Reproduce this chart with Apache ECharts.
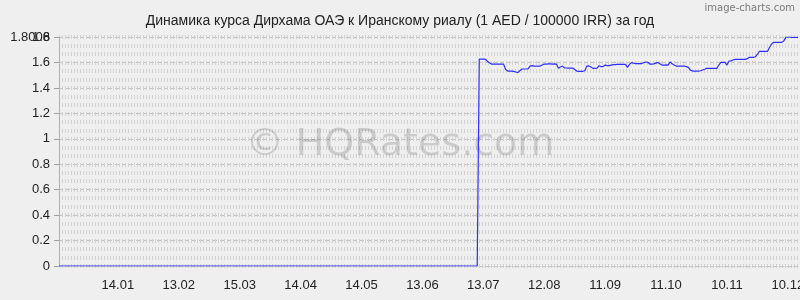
<!DOCTYPE html>
<html>
<head>
<meta charset="utf-8">
<script src="https://cdn.jsdelivr.net/npm/echarts@6/dist/echarts.min.js"></script>
<style>
html,body{margin:0;padding:0;background:#efefef;}
#chart{width:800px;height:300px;}
</style>
</head>
<body>
<div id="chart"></div>
<script>
// Period: 16.12.2012 .. 15.12.2013 (daily)
const startDate = Date.UTC(2012, 11, 16);
const dayCount = 365;

const tickLabels = ["14.01","13.02","15.03","14.04","14.05","13.06","13.07","12.08","11.09","11.10","10.11","10.12"];

// Values before the jump (no rate published -> 0)
const zeroPart = [
0,0,0,0,0,0,0,0,0,0,
0,0,0,0,0,0,0,0,0,0,
0,0,0,0,0,0,0,0,0,0,
0,0,0,0,0,0,0,0,0,0,
0,0,0,0,0,0,0,0,0,0,
0,0,0,0,0,0,0,0,0,0,
0,0,0,0,0,0,0,0,0,0,
0,0,0,0,0,0,0,0,0,0,
0,0,0,0,0,0,0,0,0,0,
0,0,0,0,0,0,0,0,0,0,
0,0,0,0,0,0,0,0,0,0,
0,0,0,0,0,0,0,0,0,0,
0,0,0,0,0,0,0,0,0,0,
0,0,0,0,0,0,0,0,0,0,
0,0,0,0,0,0,0,0,0,0,
0,0,0,0,0,0,0,0,0,0,
0,0,0,0,0,0,0,0,0,0,
0,0,0,0,0,0,0,0,0,0,
0,0,0,0,0,0,0,0,0,0,
0,0,0,0,0,0,0,0,0,0,
0,0,0,0,0,0,0
];

// Rates after the jump
const ratePart = [
1.626,1.626,1.626,1.626,
1.610,1.598,
1.588,1.587,1.588,1.588,1.587,1.588,1.587,
1.545,1.533,
1.533,1.532,1.530,
1.525,1.520,
1.535,1.549,
1.549,1.549,1.550,
1.572,1.575,
1.572,1.571,1.571,1.572,
1.580,1.588,
1.588,1.590,1.589,1.588,1.589,1.588,
1.554,1.565,1.572,1.557,
1.557,1.556,1.557,1.556,
1.545,1.533,
1.531,1.530,1.531,1.535,
1.572,1.573,
1.565,1.554,
1.554,1.555,
1.575,1.568,1.568,1.580,1.575,1.575,1.580,
1.584,1.584,1.585,1.586,1.586,1.586,1.586,
1.562,1.585,1.599,1.594,
1.591,1.591,1.591,1.592,1.598,
1.604,1.602,1.588,
1.588,1.589,1.595,
1.601,1.590,
1.580,1.580,1.581,1.580,
1.604,1.590,1.580,
1.572,1.572,1.572,1.572,1.572,
1.568,1.562,1.540,
1.533,1.533,1.533,1.533,
1.535,1.541,1.547,
1.554,1.554,1.554,1.554,1.554,1.554,
1.580,
1.601,1.601,1.601,
1.580,1.612,1.613,1.620,
1.625,1.625,1.625,1.625,1.625,1.625,
1.630,
1.641,1.641,1.641,
1.645,1.665,
1.688,1.688,1.688,1.688,1.688,
1.720,1.746,
1.759,1.759,1.759,1.759,1.759,
1.770,1.798,
1.8006,1.8006,
1.798,1.798,1.798,1.798
];

const values = zeroPart.concat(ratePart);

const categories = [];
for (let i = 0; i < dayCount; i++) {
  const d = new Date(startDate + i * 86400000);
  const dd = String(d.getUTCDate()).padStart(2, '0');
  const mm = String(d.getUTCMonth() + 1).padStart(2, '0');
  categories.push(dd + '.' + mm);
}

const yMax = 1.8006;
const font = 'Liberation Sans, Arial, sans-serif';

const chart = echarts.init(document.getElementById('chart'), null, {renderer: 'canvas'});
chart.setOption({
  backgroundColor: '#efefef',
  animation: false,
  title: {
    text: 'Динамика курса Дирхама ОАЭ к Иранскому риалу (1 AED / 100000 IRR) за год',
    left: 'center',
    top: 9,
    textStyle: {fontSize: 14, fontWeight: 'normal', color: '#222', fontFamily: font}
  },
  graphic: [
    {
      type: 'text', right: 5, top: 3, z: 10,
      style: {text: 'image-charts.com', fontSize: 10, fill: '#7a7a7a', fontFamily: 'DejaVu Sans, sans-serif'}
    },
    {
      type: 'text', left: 'center', top: 126, z: 1,
      style: {text: '© HQRates.com', fontSize: 38, fill: 'rgba(0,0,0,0.15)', fontFamily: 'DejaVu Sans, sans-serif'}
    }
  ],
  grid: {left: 59, right: 2, top: 37, bottom: 34, containLabel: false, outerBoundsMode: 'none'},
  xAxis: {
    type: 'category',
    data: categories,
    boundaryGap: false,
    offset: 9,
    axisLine: {show: true, lineStyle: {color: '#c8c8c8', type: [1, 2]}},
    axisTick: {show: false},
    splitLine: {show: false},
    axisLabel: {
      interval: function (index, value) { return tickLabels.indexOf(value) >= 0; },
      margin: 4,
      fontSize: 13,
      color: '#222',
      fontFamily: font
    }
  },
  yAxis: [
    {
      type: 'value',
      min: 0,
      max: yMax,
      interval: 0.2,
      position: 'left',
      axisLine: {show: true, lineStyle: {color: '#b0b0b0'}},
      axisTick: {show: true, length: 5, lineStyle: {color: '#a0a0a0'}},
      axisLabel: {
        showMaxLabel: true, showMinLabel: true,
        fontSize: 13, color: '#222', fontFamily: font, margin: 9,
        formatter: function (v) { return String(+v.toFixed(4)); }
      },
      splitLine: {show: true, lineStyle: {color: '#c2c2c2', type: [4, 3], width: 1}}
    },
    {
      type: 'value',
      min: 0,
      max: yMax,
      interval: 0.2 / 3,
      position: 'right',
      axisLine: {show: false},
      axisTick: {show: false},
      axisLabel: {show: false},
      splitLine: {show: true, lineStyle: {color: '#d2d2d2', type: [1, 2], width: 4}}
    },
    {
      type: 'value',
      min: 0,
      max: yMax,
      interval: 0.2,
      position: 'left',
      axisLine: {show: false},
      axisTick: {show: false},
      splitLine: {show: false},
      axisLabel: {
        showMaxLabel: false, showMinLabel: false,
        fontSize: 13, color: '#222', fontFamily: font, margin: 9,
        formatter: function (v) { return Math.abs(v - 1.8) < 1e-6 ? '1.8' : ''; }
      }
    }
  ],
  series: [{
    type: 'line',
    data: values,
    yAxisIndex: 0,
    showSymbol: false,
    symbol: 'none',
    z: 5,
    lineStyle: {color: '#2f2fff', width: 1.2}
  }]
});
</script>
</body>
</html>
